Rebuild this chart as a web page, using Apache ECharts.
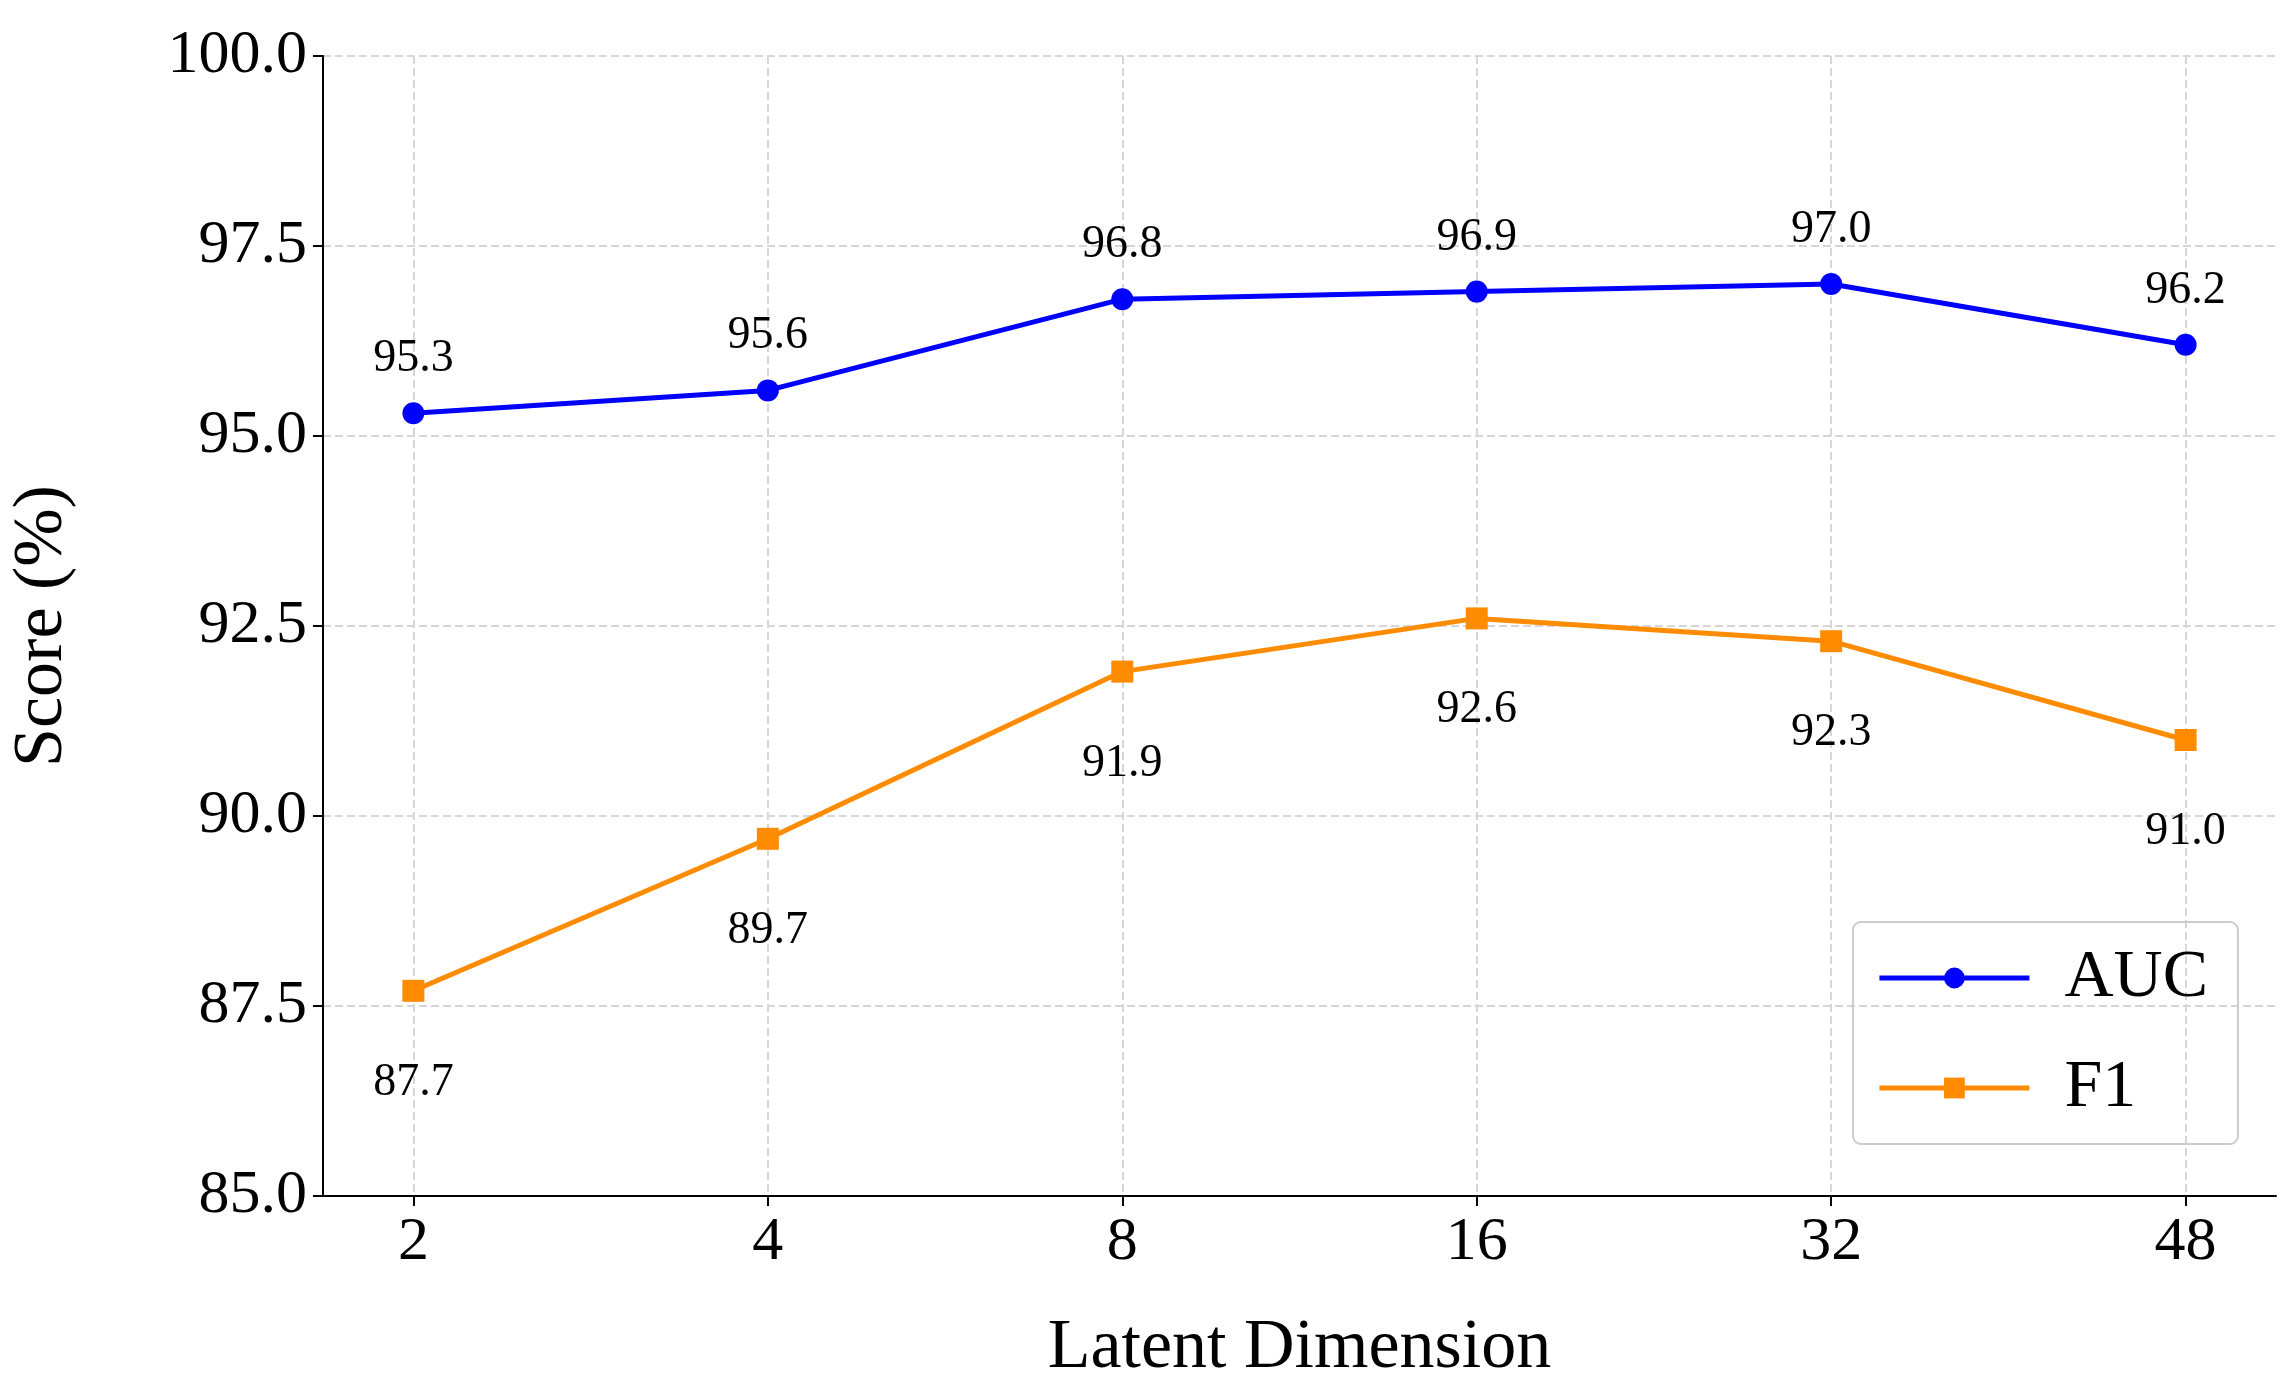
<!DOCTYPE html>
<html><head><meta charset="utf-8">
<script src="https://cdn.jsdelivr.net/npm/echarts@6/dist/echarts.min.js"></script>
<style>html,body{margin:0;background:#fff}#c{width:2294px;height:1395px}</style>
</head><body><div id="c"></div>
<script>
// 数据
const dims = ['2', '4', '8', '16', '32', '48'];
const auc = [95.3, 95.6, 96.8, 96.9, 97.0, 96.2];
const f1 = [87.7, 89.7, 91.9, 92.6, 92.3, 91.0];

const font = 'Liberation Serif';
const idx = dims.map((d, i) => i);
let chart = echarts.init(document.getElementById('c'));
let option = {
    textStyle: { fontFamily: font },
    grid: { left: 313, right: 18, top: 56, bottom: 199 },
    legend: {
        right: 56, top: 922, orient: 'vertical', itemWidth: 150, itemHeight: 26, itemGap: 42,
        padding: [22, 30, 22, 24], borderColor: '#ccc', borderWidth: 2, borderRadius: 8,
        lineStyle: { width: 5 },
        textStyle: { fontFamily: font, fontSize: 68, color: '#000', padding: [0, 0, 0, 30] },
        data: ['AUC', 'F1']
    },
    xAxis: {
        type: 'value', min: -0.255, max: 5.255,
        name: 'Latent Dimension', nameLocation: 'middle', nameGap: 118,
        nameTextStyle: { fontFamily: font, fontSize: 70, color: '#000' },
        axisLine: { onZero: false, lineStyle: { color: '#000', width: 2 } },
        axisTick: { customValues: idx, length: 10, lineStyle: { color: '#000', width: 2 } },
        axisLabel: { customValues: idx, formatter: v => dims[Math.round(v)], fontSize: 62, color: '#000', margin: 16 },
        splitLine: { show: true, lineStyle: { type: 'dashed', color: '#d6d6d6', width: 2 } }
    },
    yAxis: {
        type: 'value', min: 85, max: 100, interval: 2.5,
        name: 'Score (%)', nameLocation: 'middle', nameGap: 245,
        nameTextStyle: { fontFamily: font, fontSize: 70, color: '#000' },
        axisLine: { show: true, onZero: false, lineStyle: { color: '#000', width: 2 } },
        axisTick: { show: true, length: 10, lineStyle: { color: '#000', width: 2 } },
        axisLabel: { formatter: v => v.toFixed(1), fontSize: 62, color: '#000', margin: 16 },
        splitLine: { show: true, lineStyle: { type: 'dashed', color: '#d6d6d6', width: 2 } }
    },
    series: [
        {
            name: 'AUC', type: 'line', data: auc.map((v, i) => [i, v]),
            symbol: 'circle', symbolSize: 22, color: '#0000ff',
            lineStyle: { width: 5 },
            label: { show: true, position: 'top', distance: 20, fontSize: 46, color: '#000', formatter: p => p.value[1].toFixed(1) }
        },
        {
            name: 'F1', type: 'line', data: f1.map((v, i) => [i, v]),
            symbol: 'rect', symbolSize: 22, color: '#ff8c00',
            lineStyle: { width: 5 },
            label: { show: true, position: 'bottom', distance: 58, fontSize: 46, color: '#000', formatter: p => p.value[1].toFixed(1) }
        }
    ]
};
chart.setOption(option);
</script></body></html>
